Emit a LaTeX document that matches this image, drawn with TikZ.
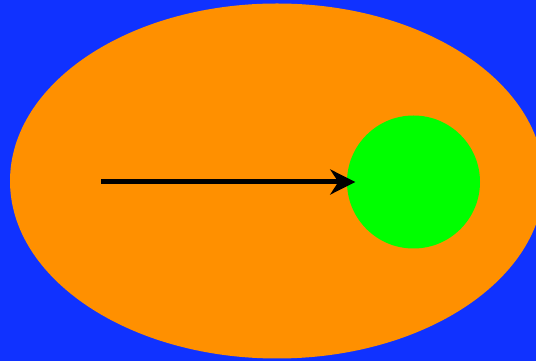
\documentclass[tikz,border=0pt]{standalone}
\usepackage{tikz}
\usetikzlibrary{arrows.meta,calc}
\definecolor{bgblue}{RGB}{16,50,255}
\definecolor{eggorange}{RGB}{255,144,0}
\definecolor{ballgreen}{RGB}{0,255,0}
\tikzset{ball/.style={circle,fill=ballgreen,inner sep=0pt,minimum size=133pt},
	push/.style={line width=5pt,-{Stealth[length=25pt,width=25pt,inset=8pt]}}}

\begin{document}
\begin{tikzpicture}[x=1pt,y=1pt]
				\useasboundingbox (0,0) rectangle (536,361);
				\fill[bgblue] (0,0) rectangle (536,361);
				\clip (0,0) rectangle (536,361);
				\fill[eggorange] (277,180) ellipse (267 and 177.5);
				\node[ball] (ball) at (413.5,179) {};
				\coordinate (start) at (101,179);
				% arrow tip reaches a little into the ball
				\draw[push] (start) -- ($(ball.west)+(8.5,0)$);
			\end{tikzpicture}
\end{document}
